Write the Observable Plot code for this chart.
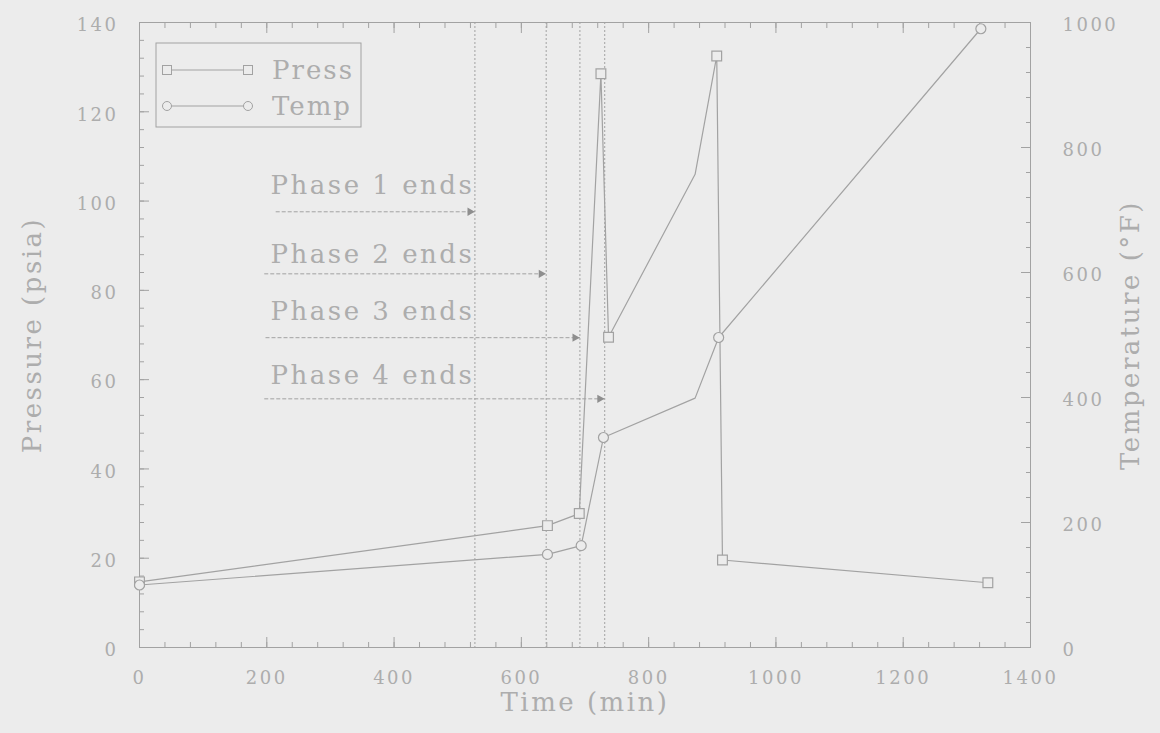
<!DOCTYPE html>
<html><head><meta charset="utf-8">
<script src="https://cdn.jsdelivr.net/npm/d3@7"></script>
<script src="https://cdn.jsdelivr.net/npm/@observablehq/plot@0.6"></script>
<style>
html,body{margin:0;padding:0;background:#ececec;}
</style></head><body><div id="chart"></div>
<script>
// ---- data ----
const pressTime   = [0, 641, 691, 725, 737, 873, 907, 916, 1333];
const pressure    = [14.7, 27.3, 30.0, 128.5, 69.5, 106, 132.5, 19.6, 14.5];
const pressMarked = [true, true, true, true, true, false, true, true, true];

const tempTime    = [0, 641, 694, 729, 873, 910, 1322];
const temperature = [100, 149, 163, 336, 399, 496, 990];
const tempMarked  = [true, true, true, true, false, true, true];

const phaseEnds       = [527, 639, 692, 731];
const phaseLabels     = ["Phase 1 ends", "Phase 2 ends", "Phase 3 ends", "Phase 4 ends"];
const phaseArrowStart = [214, 196, 198, 196];       // min
const phaseArrowLevel = [97.6, 83.7, 69.4, 55.7];   // psia
const phaseLabelLevel = [103.4, 87.9, 75.2, 60.9];  // psia
const phaseLabelTime  = 206;                        // min

const xTicks     = [0, 200, 400, 600, 800, 1000, 1200, 1400];
const pressTicks = [0, 20, 40, 60, 80, 100, 120, 140];
const tempTicks  = [0, 200, 400, 600, 800, 1000];
const seriesNames = ["Press", "Temp"];
const xTitle = "Time (min)", yTitle = "Pressure (psia)", y2Title = "Temperature (°F)";

// ---- build ----
const k = 140 / 1000; // °F -> psia-axis units (right axis 0..1000 spans left 0..140)
const press = pressTime.map((t, i) => ({t, v: pressure[i], m: pressMarked[i]}));
const temp  = tempTime.map((t, i) => ({t, v: temperature[i] * k, m: tempMarked[i]}));
const phases = phaseEnds.map((t, i) => ({t, label: phaseLabels[i], x0: phaseArrowStart[i], ya: phaseArrowLevel[i], yl: phaseLabelLevel[i], xl: phaseLabelTime}));
const minorX = d3.range(0, 1401, 40);
const minorP = d3.range(0, 141, 4);
const minorT = d3.range(0, 1001, 40).map(d => d * k);

const INK = "#a2a2a2", TXT = "#adadad", BG = "#ececec";
const blank = () => "";

const chart = Plot.plot({
  width: 1160, height: 733,
  marginLeft: 139, marginRight: 130, marginTop: 22, marginBottom: 86,
  style: {background: BG, color: TXT, fontFamily: "DejaVu Serif", fontSize: "18px"},
  x: {domain: [0, 1400]},
  y: {domain: [0, 140]},
  marks: [
    Plot.frame({stroke: INK}),
    // phase rules
    Plot.ruleX(phases, {x: "t", stroke: INK, strokeDasharray: "2,2", strokeWidth: 1}),
    // inward ticks: bottom/top
    Plot.axisX({anchor: "bottom", ticks: xTicks, tickSize: -10, tickFormat: blank, label: null, stroke: INK}),
    Plot.axisX({anchor: "bottom", ticks: minorX, tickSize: -5, tickFormat: blank, label: null, stroke: INK}),
    Plot.axisX({anchor: "top", ticks: xTicks, tickSize: -10, tickFormat: blank, label: null, stroke: INK}),
    Plot.axisX({anchor: "top", ticks: minorX, tickSize: -5, tickFormat: blank, label: null, stroke: INK}),
    // left/right
    Plot.axisY({anchor: "left", ticks: pressTicks, tickSize: -10, tickFormat: blank, label: null, stroke: INK}),
    Plot.axisY({anchor: "left", ticks: minorP, tickSize: -5, tickFormat: blank, label: null, stroke: INK}),
    Plot.axisY({anchor: "right", ticks: tempTicks.map(d => d * k), tickSize: -10, tickFormat: blank, label: null, stroke: INK}),
    Plot.axisY({anchor: "right", ticks: minorT, tickSize: -5, tickFormat: blank, label: null, stroke: INK}),
    // tick labels
    Plot.axisX({anchor: "bottom", ticks: xTicks, tickFormat: d => String(d), tickSize: 0, tickPadding: 24, label: null}),
    Plot.axisY({anchor: "left", ticks: pressTicks, tickFormat: d => String(d), tickSize: 0, tickPadding: 21, label: null, dy: 3}),
    Plot.axisY({anchor: "right", ticks: tempTicks.map(d => d * k), tickFormat: d => String(Math.round(d / k)), tickSize: 0, tickPadding: 32, label: null, dy: 3}),
    // data
    Plot.line(press, {x: "t", y: "v", stroke: INK, strokeWidth: 1.2}),
    Plot.line(temp, {x: "t", y: "v", stroke: INK, strokeWidth: 1.2}),
    Plot.dot(press.filter(d => d.m), {x: "t", y: "v", symbol: "square", r: 5.5, stroke: INK, fill: BG, strokeWidth: 1.2}),
    Plot.dot(temp.filter(d => d.m), {x: "t", y: "v", symbol: "circle", r: 5, stroke: INK, fill: BG, strokeWidth: 1.2}),
    // phase arrows + labels
    Plot.link(phases, {x1: "x0", x2: "t", y1: "ya", y2: "ya", stroke: INK, strokeDasharray: "4,2", strokeWidth: 1}),
    Plot.dot(phases, {x: "t", y: "ya", symbol: "triangle2", rotate: 90, r: 4, fill: "#8e8e8e", dx: -5}),
    Plot.text(phases, {x: "xl", y: "yl", text: "label", textAnchor: "start", fontSize: 26, ariaLabel: "phase-label"}),
    // axis titles
    Plot.text([xTitle], {text: d => d, frameAnchor: "bottom", dy: 63, fontSize: 26, textAnchor: "middle", ariaLabel: "title"}),
    Plot.text([yTitle], {text: d => d, frameAnchor: "left", dx: -107, rotate: -90, fontSize: 26, textAnchor: "middle", ariaLabel: "title"}),
    Plot.text([y2Title], {text: d => d, frameAnchor: "right", dx: 100, rotate: -90, fontSize: 26, textAnchor: "middle", ariaLabel: "title"})
  ]
});

const svg = d3.select(chart);
svg.attr("letter-spacing", "2.5px");
svg.selectAll('g[aria-label="title"] text').attr("letter-spacing", "4.7px");
svg.selectAll('g[aria-label="phase-label"] text').attr("letter-spacing", "1.5px");

// legend (decoration, inside top-left of frame)
const lg = svg.append("g").attr("font-size", 26).attr("fill", TXT).attr("letter-spacing", "2px").attr("text-anchor", "start");
lg.append("rect").attr("x", 156).attr("y", 43).attr("width", 205).attr("height", 84)
  .attr("fill", "none").attr("stroke", INK);
seriesNames.forEach((name, i) => {
  const yy = 70 + i * 36;
  lg.append("line").attr("x1", 167).attr("x2", 248).attr("y1", yy).attr("y2", yy).attr("stroke", INK).attr("stroke-width", 1.2);
  [167, 248].forEach(xx => {
    if (i === 0) lg.append("rect").attr("x", xx - 4.5).attr("y", yy - 4.5).attr("width", 9).attr("height", 9).attr("fill", BG).attr("stroke", INK);
    else lg.append("circle").attr("cx", xx).attr("cy", yy).attr("r", 4.5).attr("fill", BG).attr("stroke", INK);
  });
  lg.append("text").attr("x", 272).attr("y", yy).attr("dy", "0.35em").text(name);
});

document.getElementById("chart").appendChild(chart);
</script>
</body></html>
